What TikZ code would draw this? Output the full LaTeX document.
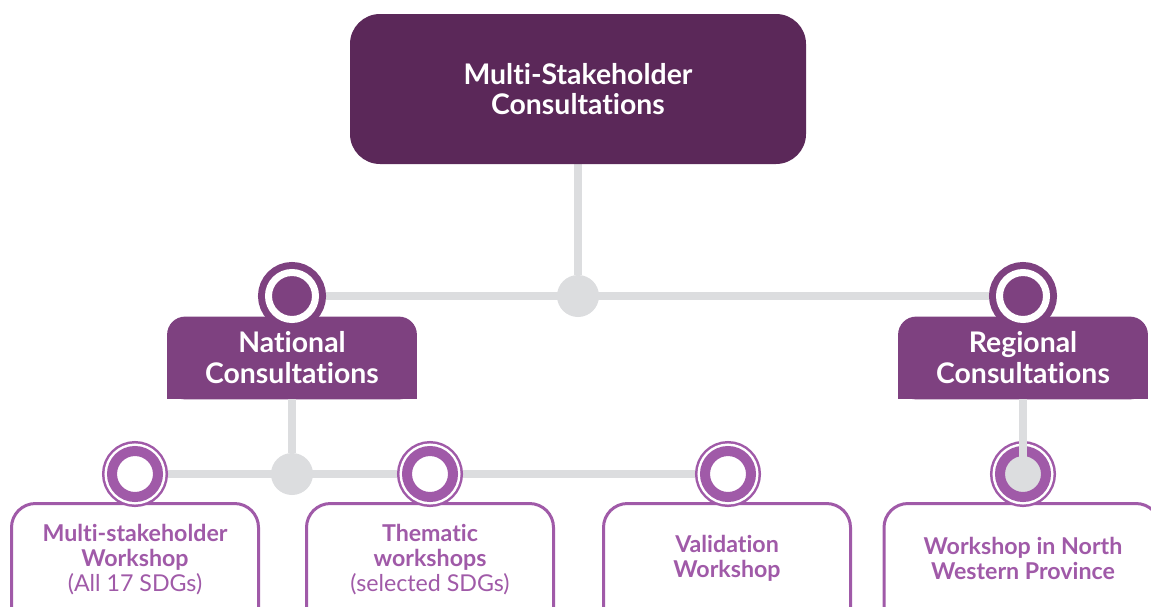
\documentclass[tikz,border=0pt]{standalone}
\usepackage{fontspec}
\setmainfont{Lato}[Ligatures=NoCommon]
\usetikzlibrary{positioning}
\definecolor{topplum}{HTML}{5B2859}
\definecolor{midplum}{HTML}{7E4180}
\definecolor{lightplum}{HTML}{A05AA8}
\definecolor{linegray}{HTML}{DCDDDF}
\pgfdeclarelayer{bg}
\pgfsetlayers{bg,main}
\tikzset{
  top box/.style={
    fill=topplum, rounded corners=15pt,
    minimum width=228pt, minimum height=75pt,
    text=white, align=center, inner sep=0pt,
    font=\bfseries\fontsize{14.2}{15}\selectfont
  },
  tab box/.style={
    minimum width=124.5pt, minimum height=41pt,
    text=white, align=center, inner sep=0pt,
    font=\bfseries\fontsize{14.2}{15.5}\selectfont
  },
  leaf box/.style={
    draw=lightplum, line width=1.5pt, fill=white,
    rounded corners=12pt, anchor=north,
    minimum width=123.5pt, minimum height=150pt
  },
  leaf text/.style={
    text=lightplum, align=center, inner sep=0pt,
    font=\fontsize{11.6}{12.5}\selectfont
  },
  hub marker/.style={
    circle, inner sep=0pt, minimum size=23.5pt,
    fill=midplum, draw=midplum, double=white,
    line width=3.5pt, double distance=3.5pt
  },
  leaf marker/.style={
    circle, inner sep=0pt, minimum size=23pt,
    preaction={draw=lightplum, line width=10pt},
    preaction={draw=white, line width=7.5pt},
    fill=white, draw=lightplum, line width=5pt
  },
  junction/.style={
    circle, fill=linegray, inner sep=0pt, minimum size=21pt
  },
  gray line/.style={draw=linegray, line width=4pt}
}
\begin{document}
\begin{tikzpicture}[x=0.5pt, y=-0.5pt]
\useasboundingbox (0,0) rectangle (1151,606);
\clip (0,0) rectangle (1151,606);

% top level
\node[top box] (msc) at (578,89) {Multi-Stakeholder\\Consultations};
\node[junction] (j1) at (578,296) {};

% national / regional
\node[tab box] (nat) at (292,358) {National\\Consultations};
\node[tab box] (reg) at (1023,358) {Regional\\Consultations};
\node[hub marker] (natm) at (292,296) {};
\node[hub marker] (regm) at (1023,296) {};
\node[junction] (j2) at (292,474) {};

% workshops
\node[leaf box] (b1) at (135,502) {};
\node[leaf box] (b2) at (430,502) {};
\node[leaf box] (b3) at (727,502) {};
\node[leaf box, minimum width=138pt] (b4) at (1022,502) {};
\node[leaf text] (t1) at (135,560) {\textbf{Multi-stakeholder}\\\textbf{Workshop}\\(All 17 SDGs)};
\node[leaf text] (t2) at (430,560) {\textbf{Thematic}\\\textbf{workshops}\\(selected SDGs)};
\node[leaf text] (t3) at (727,558) {\textbf{Validation}\\\textbf{Workshop}};
\node[leaf text] (t4) at (1023,558) {\textbf{Workshop in North}\\\textbf{Western Province}};
\node[leaf marker] (m1) at (135,474) {};
\node[leaf marker] (m2) at (430,474) {};
\node[leaf marker] (m3) at (728,474) {};
\node[leaf marker, fill=linegray] (m4) at (1023,474) {};

\begin{pgfonlayer}{bg}
  \fill[midplum, rounded corners=9pt] (nat.south west) rectangle (nat.north east);
  \fill[midplum] (nat.south west) rectangle (nat.east);
  \fill[midplum, rounded corners=9pt] (reg.south west) rectangle (reg.north east);
  \fill[midplum] (reg.south west) rectangle (reg.east);
  \draw[gray line] (msc) -- (j1);
  \draw[gray line] (natm) -- (regm);
  \draw[gray line] (nat) -- (j2);
  \draw[gray line] (m1) -- (m3);
\end{pgfonlayer}
\draw[gray line] (reg) -- (m4.center);
\end{tikzpicture}
\end{document}
